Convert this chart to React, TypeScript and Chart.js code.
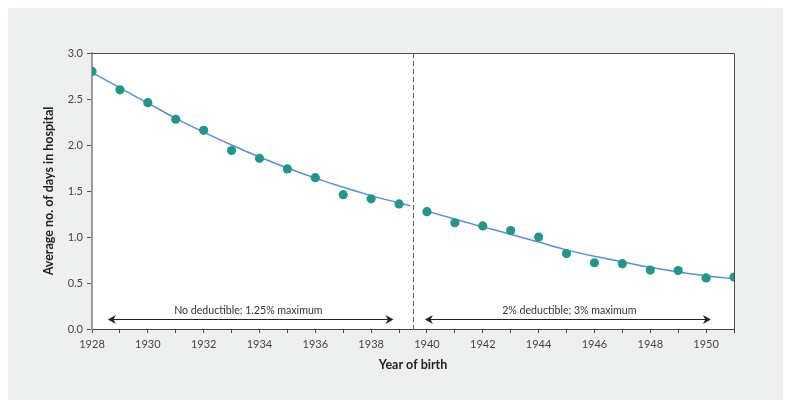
import React, { useEffect, useRef } from 'react';
import { Chart, registerables } from 'chart.js';

Chart.register(...registerables);

// ---- Data ----
const birthYears = [1928, 1929, 1930, 1931, 1932, 1933, 1934, 1935, 1936, 1937, 1938, 1939, 1940, 1941, 1942, 1943, 1944, 1945, 1946, 1947, 1948, 1949, 1950, 1951];
const avgDays = [2.80, 2.60, 2.46, 2.28, 2.16, 1.94, 1.855, 1.74, 1.645, 1.46, 1.415, 1.36, 1.275, 1.155, 1.12, 1.07, 1.00, 0.82, 0.72, 0.71, 0.64, 0.635, 0.555, 0.565];

const fitLeftYears = [1928, 1929, 1930, 1931, 1932, 1933, 1934, 1935, 1936, 1937, 1938, 1939, 1939.4];
const fitLeftValues = [2.79, 2.62, 2.455, 2.29, 2.14, 2.0, 1.87, 1.75, 1.64, 1.54, 1.45, 1.37, 1.34];
const fitRightYears = [1940, 1941, 1942, 1943, 1944, 1945, 1946, 1947, 1948, 1949, 1950, 1951];
const fitRightValues = [1.28, 1.195, 1.11, 1.03, 0.945, 0.86, 0.79, 0.73, 0.67, 0.62, 0.578, 0.545];

const xMin = 1928;
const xMax = 1951;
const yMin = 0;
const yMax = 3;
const yStep = 0.5;

const policyChangeYear = 1939.5;
const periodLabels = ['No deductible; 1.25% maximum', '2% deductible; 3% maximum'];
const periodStarts = [1928.57, 1939.93];
const periodEnds = [1938.8, 1950.17];
const periodLabelCenters = [1933.6, 1945.1];
const arrowLevel = 0.11;
const labelLevel = 0.205;

const xTitle = 'Year of birth';
const yTitle = 'Average no. of days in hospital';

const FONT = 'Lato, "Open Sans", sans-serif';

function drawHead(ctx: CanvasRenderingContext2D, x: number, y: number, dir: number) {
  ctx.beginPath();
  ctx.moveTo(x, y);
  ctx.lineTo(x - dir * 8, y - 4.5);
  ctx.lineTo(x - dir * 5.5, y);
  ctx.lineTo(x - dir * 8, y + 4.5);
  ctx.closePath();
  ctx.fill();
}

const decorPlugin = {
  id: 'decor',
  beforeDraw(chart: any) {
    const { ctx, chartArea: a } = chart;
    ctx.save();
    ctx.fillStyle = '#ffffff';
    ctx.fillRect(a.left, a.top, a.right - a.left, a.bottom - a.top);
    ctx.restore();
  },
  afterDraw(chart: any) {
    const { ctx, chartArea: a, scales } = chart;
    const xs = scales.x;
    const ys = scales.y;
    ctx.save();
    ctx.strokeStyle = '#4a4a4a';
    ctx.lineWidth = 1;
    ctx.beginPath();
    ctx.moveTo(a.left, a.top + 0.5);
    ctx.lineTo(a.right + 0.5, a.top + 0.5);
    ctx.lineTo(a.right + 0.5, a.bottom);
    ctx.stroke();

    const dx = Math.round(xs.getPixelForValue(policyChangeYear)) + 0.5;
    ctx.strokeStyle = '#5a5a5a';
    ctx.setLineDash([5, 3]);
    ctx.beginPath();
    ctx.moveTo(dx, a.top);
    ctx.lineTo(dx, a.bottom);
    ctx.stroke();
    ctx.setLineDash([]);

    const ay = Math.round(ys.getPixelForValue(arrowLevel)) + 0.5;
    const ly = ys.getPixelForValue(labelLevel);
    ctx.lineWidth = 1;
    for (let i = 0; i < periodLabels.length; i++) {
      const x0 = xs.getPixelForValue(periodStarts[i]);
      const x1 = xs.getPixelForValue(periodEnds[i]);
      ctx.strokeStyle = '#222222';
      ctx.fillStyle = '#222222';
      ctx.beginPath();
      ctx.moveTo(x0 + 4, ay);
      ctx.lineTo(x1 - 4, ay);
      ctx.stroke();
      drawHead(ctx, x0, ay, -1);
      drawHead(ctx, x1, ay, 1);
      ctx.font = `10.6px ${FONT}`;
      ctx.fillStyle = '#333333';
      ctx.textAlign = 'center';
      ctx.textBaseline = 'middle';
      ctx.fillText(periodLabels[i], xs.getPixelForValue(periodLabelCenters[i]), ly);
    }
    ctx.restore();
  },
};

export default function App() {
  const canvasRef = useRef<HTMLCanvasElement | null>(null);

  useEffect(() => {
    if (!canvasRef.current) return;
    const observed = birthYears.map((x, i) => ({ x, y: avgDays[i] }));
    const fitL = fitLeftYears.map((x, i) => ({ x, y: fitLeftValues[i] }));
    const fitR = fitRightYears.map((x, i) => ({ x, y: fitRightValues[i] }));

    const chart = new Chart(canvasRef.current, {
      type: 'scatter',
      data: {
        datasets: [
          {
            label: 'Observed',
            data: observed,
            showLine: false,
            pointRadius: 4.6,
            pointBackgroundColor: '#23968a',
            pointBorderColor: '#23968a',
            pointBorderWidth: 0,
            order: 0,
          },
          {
            label: 'Fit 1928-1939',
            data: fitL,
            showLine: true,
            pointRadius: 0,
            borderColor: '#5b8fca',
            borderWidth: 1.5,
            cubicInterpolationMode: 'monotone',
            order: 1,
          },
          {
            label: 'Fit 1940-1951',
            data: fitR,
            showLine: true,
            pointRadius: 0,
            borderColor: '#5b8fca',
            borderWidth: 1.5,
            cubicInterpolationMode: 'monotone',
            order: 1,
          },
        ],
      },
      options: {
        animation: false,
        responsive: false,
        maintainAspectRatio: false,
        layout: { padding: { left: 0, right: 50, top: 46, bottom: 0 } },
        plugins: {
          legend: { display: false },
          tooltip: { enabled: false },
        },
        scales: {
          x: {
            type: 'linear',
            min: xMin,
            max: xMax,
            afterFit: (s: any) => { s.height = 71; },
            grid: {
              display: true,
              drawOnChartArea: false,
              drawTicks: true,
              tickLength: 4,
              color: '#444444',
            },
            border: { display: true, color: '#444444', width: 1 },
            ticks: {
              stepSize: 1,
              autoSkip: false,
              maxRotation: 0,
              padding: 5,
              color: '#444444',
              font: { family: FONT, size: 11 },
              callback: (v: any) => (Number(v) % 2 === 0 && Number(v) <= 1950 ? String(v) : ''),
            },
            title: {
              display: true,
              text: xTitle,
              color: '#222222',
              font: { family: FONT, size: 12.5, weight: 'bold' },
              padding: { top: 0, bottom: 28 },
            },
          },
          y: {
            type: 'linear',
            min: yMin,
            max: yMax,
            afterFit: (s: any) => { s.width = 85; },
            grid: {
              display: true,
              drawOnChartArea: false,
              drawTicks: true,
              tickLength: 5,
              color: '#555555',
            },
            border: { display: true, color: '#9a9a9a', width: 2 },
            ticks: {
              stepSize: yStep,
              padding: 4,
              color: '#444444',
              font: { family: FONT, size: 11 },
              callback: (v: any) => Number(v).toFixed(1),
            },
            title: {
              display: true,
              text: yTitle,
              color: '#222222',
              font: { family: FONT, size: 12.5, weight: 'bold' },
              padding: { top: 34, bottom: 0 },
            },
          },
        },
      },
      plugins: [decorPlugin],
    } as any);
    return () => chart.destroy();
  }, []);

  return (
    <div style={{ width: 777, height: 393, marginLeft: -1, marginTop: -1, background: '#eef0ef', position: 'relative' }}>
      <canvas ref={canvasRef} width={777} height={393} style={{ display: 'block', width: 777, height: 393 }} />
    </div>
  );
}
